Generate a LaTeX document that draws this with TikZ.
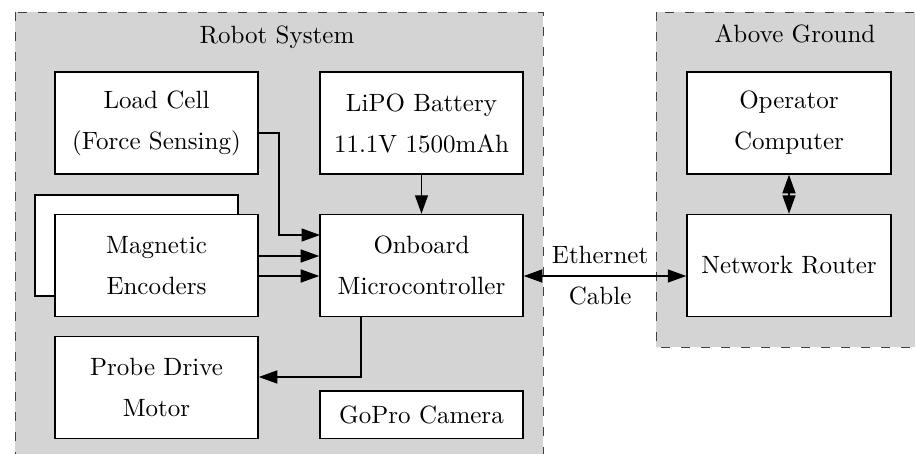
\documentclass[tikz,border=0pt]{standalone}
\usetikzlibrary{arrows.meta}
\begin{document}
\begin{tikzpicture}[x=0.4pt,y=-0.4pt,
  every node/.style={font={\fontsize{10}{16.4}\selectfont}},
  region/.style={draw=black!75,fill=black!17,dash pattern=on 3.6pt off 4.4pt,line width=0.4pt},
  blockbox/.style={draw,fill=white,line width=0.6pt,minimum width=81.2pt,minimum height=40.8pt,align=center,inner sep=0pt},
  conn/.style={line width=0.55pt,-{Triangle[length=7.4pt,width=5.2pt]}},
  biconn/.style={line width=0.55pt,{Triangle[length=7.4pt,width=5.2pt]}-{Triangle[length=7.4pt,width=5.2pt]}}]
\useasboundingbox (0,0) rectangle (915,454);
\clip (0,0) rectangle (915,454);
% regions
\path[region] (15,12) rectangle (543,480);
\path[region] (656,12) rectangle (940,347);
\node (rs) at (277,37) {Robot System};
\node (ag) at (795,34) {Above Ground};
% blocks
\node[blockbox] (lc) at (156.5,123) {Load Cell\\(Force Sensing)};
\node[blockbox] (bat) at (421.5,123) {LiPO Battery\\11.1V 1500mAh};
\node[blockbox,minimum height=40.4pt] (encb) at (136.5,245.5) {};
\node[blockbox] (enc) at (156.5,265.5) {Magnetic\\Encoders};
\node[blockbox] (mc) at (421.5,265.5) {Onboard\\Microcontroller};
\node[blockbox] (pdm) at (156.5,387.5) {Probe Drive\\Motor};
\node[blockbox,minimum height=19pt] (gp) at (421.5,414.5) {GoPro Camera};
\node[blockbox,minimum width=81.6pt] (op) at (789,123) {Operator\\Computer};
\node[blockbox,minimum width=81.6pt] (nr) at (789,265.5) {Network Router};
% connectors
\coordinate (lcout) at (258,133);
\coordinate (mcin1) at (320,235);
\draw[conn] (lcout) -| (279,235) -- (mcin1);
\draw[conn] (enc.east |- 0,256) -- (mc.west |- 0,256);
\draw[conn] (enc.east |- 0,276) -- (mc.west |- 0,276);
\draw[conn] (bat.south) -- (mc.north);
\draw[conn] (mc.south -| 361,0) |- (pdm.east |- 0,377);
\draw[biconn] (mc.east |- 0,276) -- (nr.west |- 0,276)
  node[pos=0.47,align=center] (eth) {Ethernet\\Cable};
\draw[biconn] (op.south) -- (nr.north);
\end{tikzpicture}
\end{document}
